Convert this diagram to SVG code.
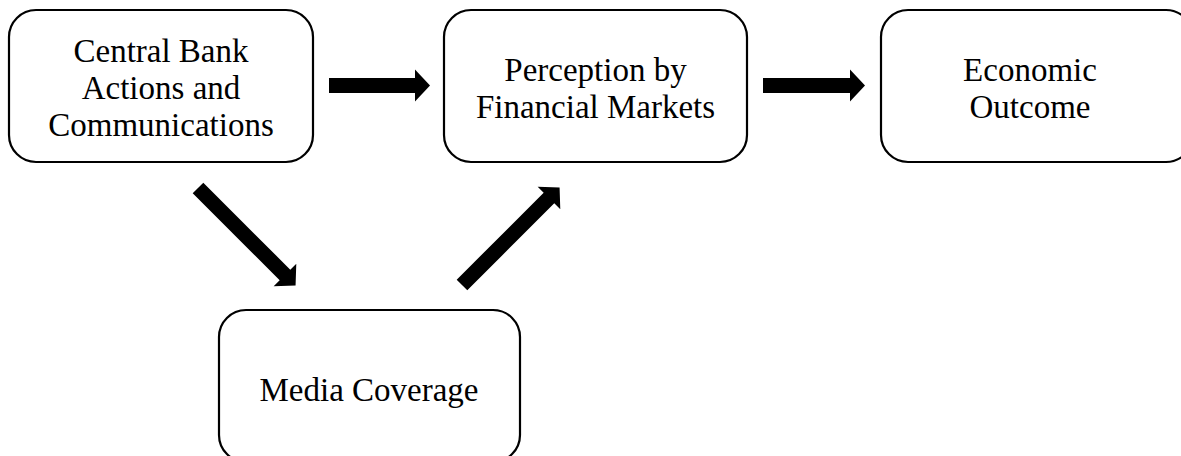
<svg xmlns="http://www.w3.org/2000/svg" width="1181" height="456" viewBox="0 0 1181 456">
<style>
.box{fill:#fff;stroke:#000;stroke-width:2.2}
.lbl{font-family:"Liberation Serif","Times New Roman",serif;font-size:33px;fill:#000;text-anchor:middle}
.arr{fill:#000}
</style>
<rect width="1181" height="456" fill="#fff"/>
<g id="node-central-bank">
<rect class="box" x="9" y="10" width="304" height="152" rx="27"/>
<text class="lbl" x="161" y="62">Central Bank</text>
<text class="lbl" x="161" y="99">Actions and</text>
<text class="lbl" x="161" y="136">Communications</text>
</g>
<g id="node-perception">
<rect class="box" x="444" y="10" width="303" height="152" rx="27"/>
<text class="lbl" x="595.5" y="81">Perception by</text>
<text class="lbl" x="595.5" y="118">Financial Markets</text>
</g>
<g id="node-economic">
<rect class="box" x="881" y="10" width="312" height="152" rx="27"/>
<text class="lbl" x="1030" y="81">Economic</text>
<text class="lbl" x="1030" y="118">Outcome</text>
</g>
<g id="node-media">
<rect class="box" x="219" y="310" width="301" height="152" rx="27"/>
<text class="lbl" x="369" y="401">Media Coverage</text>
</g>
<g id="connectors">
<path class="arr" transform="translate(329,85.5)" d="M0,-7.5 H86 V-16 L101,0 L86,16 V7.5 H0 Z"/>
<path class="arr" transform="translate(763,85.5)" d="M0,-7.5 H87 V-16 L102,0 L87,16 V7.5 H0 Z"/>
<path class="arr" transform="translate(198,188) rotate(45)" d="M0,-7.5 H123 V-16 L138,0 L123,16 V7.5 H0 Z"/>
<path class="arr" transform="translate(462,285) rotate(-45)" d="M0,-7.5 H123 V-16 L138,0 L123,16 V7.5 H0 Z"/>
</g>
</svg>
